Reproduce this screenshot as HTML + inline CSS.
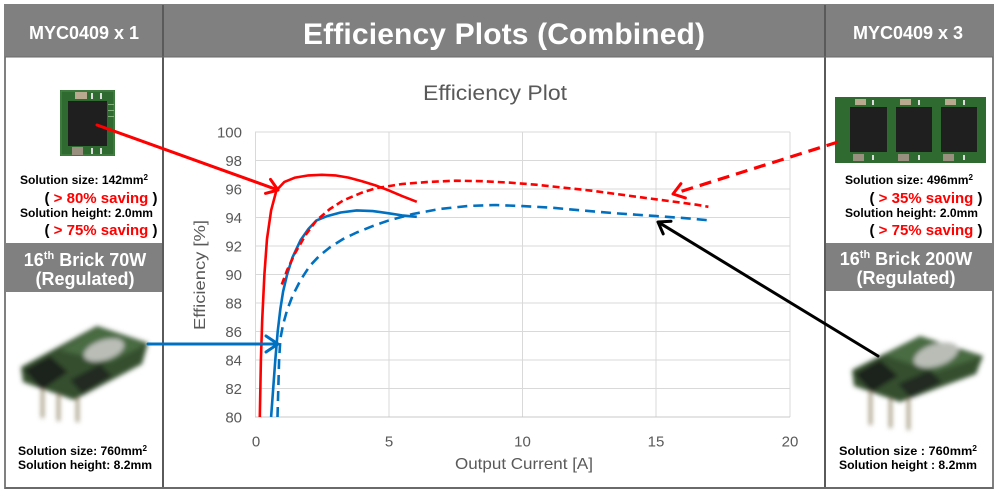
<!DOCTYPE html>
<html><head><meta charset="utf-8"><style>
html,body{margin:0;padding:0;background:#fff;}
svg{display:block;}
.b{font-family:"Liberation Sans",Arial,sans-serif;font-weight:bold;}
.c{font-family:"Liberation Sans",Arial,sans-serif;fill:#595959;}
</style></head><body>
<svg width="1000" height="494" viewBox="0 0 1000 494" xmlns="http://www.w3.org/2000/svg">
<defs>
<filter id="bl" x="-20%" y="-20%" width="140%" height="140%"><feGaussianBlur stdDeviation="2.4"/></filter>
</defs>
<rect x="0" y="0" width="1000" height="494" fill="#fff"/>
<!-- headers -->
<rect x="5" y="5" width="988" height="52" fill="#808080"/>
<rect x="5" y="243" width="158" height="49" fill="#808080"/>
<rect x="825" y="243" width="168" height="48" fill="#808080"/>
<!-- frame lines -->
<rect x="5" y="5" width="988" height="483" fill="none" stroke="#808080" stroke-width="2"/>
<line x1="163" y1="5" x2="163" y2="488" stroke="#5a5a5a" stroke-width="2"/>
<line x1="825" y1="5" x2="825" y2="488" stroke="#5a5a5a" stroke-width="2"/>
<line x1="5" y1="57" x2="993" y2="57" stroke="#6a6a6a" stroke-width="1"/>
<line x1="5" y1="488" x2="993" y2="488" stroke="#6a6a6a" stroke-width="2"/>

<!-- header texts -->
<text class="b" x="504" y="44" font-size="30" fill="#fff" text-anchor="middle" textLength="402">Efficiency Plots (Combined)</text>
<text class="b" x="84" y="39" font-size="18" fill="#fff" text-anchor="middle">MYC0409 x 1</text>
<text class="b" x="908" y="39" font-size="18" fill="#fff" text-anchor="middle">MYC0409 x 3</text>
<text class="b" x="85" y="266" font-size="18" fill="#fff" text-anchor="middle">16<tspan font-size="11" dy="-7">th</tspan><tspan dy="7"> Brick 70W</tspan></text>
<text class="b" x="85" y="285" font-size="18" fill="#fff" text-anchor="middle">(Regulated)</text>
<text class="b" x="906" y="265" font-size="18" fill="#fff" text-anchor="middle">16<tspan font-size="11" dy="-7">th</tspan><tspan dy="7"> Brick 200W</tspan></text>
<text class="b" x="906" y="284" font-size="18" fill="#fff" text-anchor="middle">(Regulated)</text>

<!-- left chip -->
<rect x="60" y="90" width="55" height="66" fill="#2f6b30"/>
<rect x="61" y="91" width="53" height="64" fill="none" stroke="#4d8a4a" stroke-width="1"/>
<rect x="68" y="101" width="39" height="45" fill="#1f1f1f"/>
<rect x="75" y="92" width="12" height="7" fill="#b9a98f"/>
<rect x="72" y="147" width="11" height="8" fill="#9a9080"/>
<rect x="91" y="93" width="2" height="6" fill="#ddd"/><rect x="100" y="93" width="2" height="6" fill="#ddd"/>
<rect x="91" y="148" width="2" height="6" fill="#ddd"/><rect x="100" y="148" width="2" height="6" fill="#ddd"/>
<rect x="108" y="104" width="6" height="1" fill="#7fb07a"/><rect x="108" y="110" width="6" height="1" fill="#7fb07a"/><rect x="108" y="116" width="6" height="1" fill="#7fb07a"/>

<!-- right chip -->
<rect x="835" y="97" width="151" height="66" fill="#2f6b30"/>
<g>
<rect x="850" y="107" width="37" height="45" fill="#1f1f1f"/>
<rect x="896" y="107" width="36" height="45" fill="#1f1f1f"/>
<rect x="941" y="107" width="36" height="45" fill="#1f1f1f"/>
<rect x="855" y="99" width="11" height="6" fill="#b9a98f"/>
<rect x="900" y="99" width="11" height="6" fill="#b9a98f"/>
<rect x="945" y="99" width="11" height="6" fill="#b9a98f"/>
<rect x="853" y="154" width="11" height="7" fill="#9a9080"/>
<rect x="898" y="154" width="11" height="7" fill="#9a9080"/>
<rect x="943" y="154" width="11" height="7" fill="#9a9080"/>
<rect x="872" y="100" width="2" height="5" fill="#ddd"/><rect x="918" y="100" width="2" height="5" fill="#ddd"/><rect x="963" y="100" width="2" height="5" fill="#ddd"/>
<rect x="872" y="155" width="2" height="5" fill="#ddd"/><rect x="918" y="155" width="2" height="5" fill="#ddd"/><rect x="963" y="155" width="2" height="5" fill="#ddd"/>
</g>

<!-- left module (blurred) -->
<g filter="url(#bl)">
<rect x="41" y="380" width="3" height="38" fill="#9c9276"/>
<rect x="57" y="385" width="3" height="36" fill="#9c9276"/>
<rect x="76" y="388" width="3" height="34" fill="#9c9276"/>
<polygon points="21,367 97,326 148,343 142,364 74,400 23,382" fill="#34502f"/>
<polygon points="60,350 97,328 146,344 110,362" fill="#4a6c42"/>
<ellipse cx="104" cy="350" rx="21" ry="10" transform="rotate(-18 104 350)" fill="#b9bdb6"/>
<polygon points="24,370 50,356 68,372 42,390" fill="#1c221c"/>
<polygon points="70,380 100,364 112,376 82,394" fill="#222b22"/>
</g>
<!-- right module -->
<g filter="url(#bl)">
<rect x="869" y="385" width="3" height="40" fill="#9c9276"/>
<rect x="889" y="390" width="3" height="38" fill="#9c9276"/>
<rect x="907" y="392" width="3" height="38" fill="#9c9276"/>
<polygon points="852,370 920,336 983,356 976,374 900,402 854,386" fill="#34502f"/>
<polygon points="885,355 920,337 980,357 935,372" fill="#4a6c42"/>
<ellipse cx="936" cy="355" rx="23" ry="11" transform="rotate(-18 936 355)" fill="#b9bdb6"/>
<polygon points="855,374 880,360 898,376 872,392" fill="#1c221c"/>
<polygon points="898,384 930,370 942,382 910,398" fill="#222b22"/>
</g>

<!-- left texts -->
<text class="b" x="20" y="184" font-size="12" textLength="128" lengthAdjust="spacingAndGlyphs">Solution size: 142mm<tspan font-size="8" dy="-4">2</tspan></text>
<text class="b" x="101" y="203" font-size="15" text-anchor="middle">( <tspan fill="#ff0000">&gt; 80% saving</tspan> )</text>
<text class="b" x="20" y="217" font-size="12" textLength="133" lengthAdjust="spacingAndGlyphs">Solution height: 2.0mm</text>
<text class="b" x="101" y="235" font-size="15" text-anchor="middle">( <tspan fill="#ff0000">&gt; 75% saving</tspan> )</text>
<text class="b" x="18" y="455" font-size="12" textLength="129" lengthAdjust="spacingAndGlyphs">Solution size: 760mm<tspan font-size="8" dy="-4">2</tspan></text>
<text class="b" x="18" y="469" font-size="12" textLength="134" lengthAdjust="spacingAndGlyphs">Solution height: 8.2mm</text>

<!-- right texts -->
<text class="b" x="845" y="184" font-size="12" textLength="128" lengthAdjust="spacingAndGlyphs">Solution size: 496mm<tspan font-size="8" dy="-4">2</tspan></text>
<text class="b" x="926" y="203" font-size="15" text-anchor="middle">( <tspan fill="#ff0000">&gt; 35% saving</tspan> )</text>
<text class="b" x="845" y="217" font-size="12" textLength="133" lengthAdjust="spacingAndGlyphs">Solution height: 2.0mm</text>
<text class="b" x="926" y="235" font-size="15" text-anchor="middle">( <tspan fill="#ff0000">&gt; 75% saving</tspan> )</text>
<text class="b" x="839" y="455" font-size="12" textLength="138" lengthAdjust="spacingAndGlyphs">Solution size : 760mm<tspan font-size="8" dy="-4">2</tspan></text>
<text class="b" x="839" y="469" font-size="12" textLength="138" lengthAdjust="spacingAndGlyphs">Solution height : 8.2mm</text>

<!-- chart title -->
<text class="c" x="495" y="100" font-size="21" text-anchor="middle" textLength="144" lengthAdjust="spacingAndGlyphs">Efficiency Plot</text>

<!-- grid -->
<g stroke="#d9d9d9" stroke-width="1">
<line x1="255" y1="132" x2="790" y2="132"/>
<line x1="255" y1="160.5" x2="790" y2="160.5"/>
<line x1="255" y1="189" x2="790" y2="189"/>
<line x1="255" y1="217.5" x2="790" y2="217.5"/>
<line x1="255" y1="246" x2="790" y2="246"/>
<line x1="255" y1="274.5" x2="790" y2="274.5"/>
<line x1="255" y1="303" x2="790" y2="303"/>
<line x1="255" y1="331.5" x2="790" y2="331.5"/>
<line x1="255" y1="360" x2="790" y2="360"/>
<line x1="255" y1="388.5" x2="790" y2="388.5"/>
<line x1="255.5" y1="132" x2="255.5" y2="417"/>
<line x1="389" y1="132" x2="389" y2="417"/>
<line x1="522.5" y1="132" x2="522.5" y2="417"/>
<line x1="656" y1="132" x2="656" y2="417"/>
<line x1="790" y1="132" x2="790" y2="417"/>
</g>
<line x1="255" y1="417" x2="790" y2="417" stroke="#c8c8c8" stroke-width="1"/>

<!-- y tick labels -->
<g class="c" font-size="15" text-anchor="end">
<text x="242" y="137.5">100</text>
<text x="242" y="166">98</text>
<text x="242" y="194.5">96</text>
<text x="242" y="223">94</text>
<text x="242" y="251.5">92</text>
<text x="242" y="280">90</text>
<text x="242" y="308.5">88</text>
<text x="242" y="337">86</text>
<text x="242" y="365.5">84</text>
<text x="242" y="394">82</text>
<text x="242" y="422.5">80</text>
</g>
<g class="c" font-size="15" text-anchor="middle">
<text x="256" y="446.5">0</text>
<text x="389" y="446.5">5</text>
<text x="522.5" y="446.5">10</text>
<text x="656" y="446.5">15</text>
<text x="790" y="446.5">20</text>
</g>
<text class="c" x="524" y="469" font-size="16" text-anchor="middle" textLength="138" lengthAdjust="spacingAndGlyphs">Output Current  [A]</text>
<text class="c" x="0" y="0" font-size="16" text-anchor="middle" textLength="110" lengthAdjust="spacingAndGlyphs" transform="translate(205 275) rotate(-90)">Efficiency [%]</text>

<!-- series -->
<g fill="none" stroke-width="2.6" stroke-linejoin="round">
<polyline stroke="#ff0000" points="259.8,417 260.9,360 262.2,320.1 264.4,274.5 267.0,238.9 271.1,210.4 276.4,190.4 284.4,181.9 295.1,177.6 308.5,175.4 321.9,174.8 335.3,175.4 348.6,177.6 362.0,181.2 375.4,185.4 388.8,190.4 402.1,196.1 416.8,201.8"/>
<polyline stroke="#0070c0" points="271.1,417 273.2,388.5 275.3,360 277.7,331.5 280.4,308.7 283.1,291.6 287.1,274.5 292.5,257.4 300.5,240.3 308.5,228.9 316.5,220.4 327.2,216.1 340.6,212.5 356.7,210.4 372.7,211.1 388.8,213.3 402.1,215.4 416.8,216.8"/>
<polyline stroke="#ff0000" stroke-dasharray="7,4" points="281.8,284.5 287.1,270.2 295.1,253.1 305.8,234.6 316.5,220.4 329.9,209.0 343.3,200.4 362.0,192.6 375.4,188.3 402.1,184.0 428.9,181.9 455.6,180.7 482.4,181.2 509.1,182.6 535.9,184.7 562.6,187.6 589.4,190.4 616.1,194.0 642.9,197.6 669.6,201.1 696.4,204.7 708.4,206.8"/>
<polyline stroke="#0070c0" stroke-dasharray="10,6" points="277.5,417 278.3,388.5 279.1,360 280.4,338.6 283.1,324.4 287.1,310.1 292.5,295.9 300.5,280.2 309.8,265.9 319.2,256.0 329.9,247.4 343.3,238.9 356.7,232.5 372.7,226.1 388.8,220.4 412.8,214.0 439.6,209.0 469.0,205.9 495.8,205.0 522.5,206.1 549.3,207.5 581.4,210.4 616.1,213.3 656.3,216.1 688.4,218.4 709.8,220.4"/>
</g>

<!-- arrows -->
<g fill="none" stroke-linecap="round" stroke-linejoin="round">
<line x1="97" y1="125" x2="276" y2="189.3" stroke="#ff0000" stroke-width="3"/>
<polyline points="270.5,179.4 278,190 265.5,193.4" stroke="#ff0000" stroke-width="3"/>
<line x1="148" y1="344" x2="276" y2="344" stroke="#0070c0" stroke-width="3"/>
<polyline points="266,336 278,344 266,352" stroke="#0070c0" stroke-width="3"/>
<line x1="838" y1="142" x2="676" y2="193" stroke="#ff0000" stroke-width="3.2" stroke-dasharray="12,7" stroke-linecap="butt"/>
<polyline points="685.4,197.9 673,194 680.9,183.7" stroke="#ff0000" stroke-width="3"/>
<line x1="878" y1="356" x2="660" y2="223.2" stroke="#000" stroke-width="3"/>
<polyline points="663.2,233.9 658,222 671,221.2" stroke="#000" stroke-width="3"/>
</g>
</svg>
</body></html>
